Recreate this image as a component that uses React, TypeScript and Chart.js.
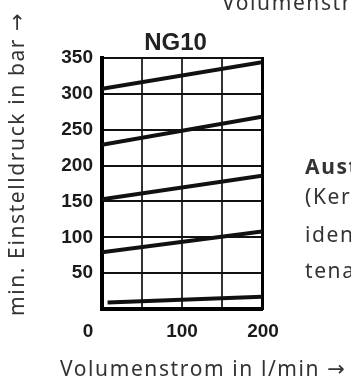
import React, { useEffect, useRef } from "react";
import { Chart, registerables } from "chart.js";

Chart.register(...registerables);

// ---- data ----
const chartTitle = "NG10";
const xAxisTitle = "Volumenstrom in l/min →";
const yAxisTitle = "min. Einstelldruck in bar →";
const flowTickLabels = [0, 100, 200];
const flowFull = [0, 200];
const flowLow = [7, 200];
const curve1 = [307, 344];
const curve2 = [229, 268];
const curve3 = [153, 186];
const curve4 = [79, 108];
const curve5 = [9, 17];
const sideFragments = ["Aust", "(Ker", "iden", "tena"];
const topFragment = "Volumenstrom in l/min →";

const TEXT_FONT = '"Noto Sans", "DejaVu Sans", sans-serif';
const NUM_FONT = '"Liberation Sans", Arial, sans-serif';

const toPoints = (xs: number[], ys: number[]) => xs.map((x, i) => ({ x, y: ys[i] }));

const labelPlugin = {
  id: "labels",
  afterDraw(chart: any) {
    const xs = chart.scales.x;
    const ctx = chart.ctx;
    ctx.save();
    ctx.fillStyle = "#1a1a1a";
    ctx.textAlign = "center";
    ctx.textBaseline = "alphabetic";
    ctx.font = `bold 19px ${NUM_FONT}`;
    const y = chart.chartArea.bottom + 28;
    flowTickLabels.forEach((v) => {
      const off = v === 0 ? -14 : v === 200 ? 1 : 0;
      ctx.fillText(String(v), xs.getPixelForValue(v) + off, y);
    });
    ctx.fillStyle = "#222";
    ctx.font = `bold 24px ${NUM_FONT}`;
    ctx.fillText(chartTitle, chart.width / 2, 50);
    ctx.restore();
  },
};

export default function App() {
  const ref = useRef<HTMLCanvasElement | null>(null);

  useEffect(() => {
    if (!ref.current) return;
    const series = [
      toPoints(flowFull, curve1),
      toPoints(flowFull, curve2),
      toPoints(flowFull, curve3),
      toPoints(flowFull, curve4),
      toPoints(flowLow, curve5),
    ];
    const chart = new Chart(ref.current, {
      type: "line",
      data: {
        datasets: series.map((d) => ({
          data: d,
          borderColor: "#111",
          borderWidth: 4,
          pointRadius: 0,
          tension: 0,
          fill: false,
        })),
      },
      options: {
        responsive: false,
        animation: false,
        layout: { padding: { top: 58, left: 0, right: 89, bottom: 40 } },
        plugins: {
          legend: { display: false },
          tooltip: { enabled: false },
          title: { display: false },
        },
        scales: {
          x: {
            type: "linear",
            min: 0,
            max: 200,
            ticks: { display: false, stepSize: 50 },
            grid: {
              color: (c: any) => (c.tick && c.tick.value === 200 ? "rgba(0,0,0,0)" : "#333"),
              lineWidth: 2,
              drawTicks: false,
            },
            border: { display: true, width: 4, color: "#000" },
            afterFit: (s: any) => {
              s.height = 30;
            },
          },
          y: {
            type: "linear",
            min: 0,
            max: 350,
            ticks: {
              stepSize: 50,
              padding: 9,
              color: "#1a1a1a",
              font: { family: NUM_FONT, size: 19, weight: "bold" },
              callback: (v: any) => (v === 0 ? "" : String(v)),
            },
            grid: { color: "#111", lineWidth: 2, drawTicks: false },
            border: { display: true, width: 4, color: "#000" },
            afterFit: (s: any) => {
              s.width = 102;
            },
          },
          y2: {
            type: "linear",
            position: "right",
            min: 0,
            max: 350,
            ticks: { display: false },
            grid: { drawOnChartArea: false, drawTicks: false },
            border: { display: true, width: 3, color: "#000", dash: [28, 6] },
            afterFit: (s: any) => {
              s.width = 0;
            },
          },
        },
      },
      plugins: [labelPlugin],
    });
    return () => chart.destroy();
  }, []);

  const textStyle: React.CSSProperties = {
    position: "absolute",
    fontFamily: TEXT_FONT,
    fontSize: 21,
    lineHeight: "21px",
    color: "#333",
    whiteSpace: "nowrap",
    letterSpacing: "1.6px",
  };

  return (
    <div
      style={{
        position: "fixed",
        left: 0,
        top: 0,
        width: 351,
        height: 379,
        overflow: "hidden",
        background: "#fff",
      }}
    >
      <canvas ref={ref} width={351} height={379} style={{ position: "absolute", left: 0, top: 0 }} />
      <div
        style={{
          ...textStyle,
          left: 0,
          top: 0,
          transformOrigin: "0 0",
          transform: "translate(6px, 316px) rotate(-90deg)",
        }}
      >
        {yAxisTitle}
      </div>
      <div style={{ ...textStyle, left: 60, top: 358 }}>{xAxisTitle}</div>
      <div style={{ ...textStyle, left: 222, top: -8 }}>{topFragment}</div>
      {sideFragments.map((t, i) => (
        <div
          key={t}
          style={{
            ...textStyle,
            left: 305,
            top: [156, 186, 224, 260][i],
            fontWeight: i === 0 ? "bold" : "normal",
          }}
        >
          {t}
        </div>
      ))}
    </div>
  );
}
